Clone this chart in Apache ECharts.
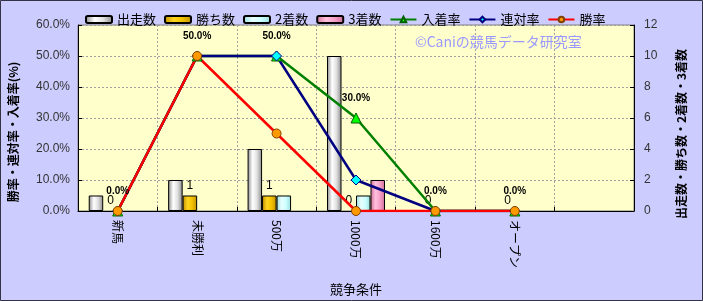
<!DOCTYPE html>
<html><head><meta charset="utf-8">
<script src="https://cdn.jsdelivr.net/npm/echarts@6/dist/echarts.min.js"></script>
<style>html,body{margin:0;padding:0;background:#CCCCFF;}#c{width:703px;height:301px;}</style>
</head><body><div id="c"></div>
<script>
const categories = ['新馬','未勝利','500万','1000万','1600万','オープン',''];
const runs   = [1, 2, 4, 10, 0, 0, '-'];
const wins   = [0, 1, 1, 0, 0, 0, '-'];
const second = [0, 0, 1, 1, 0, 0, '-'];
const third  = [0, 0, 0, 2, 0, 0, '-'];
const placeRate = [0, 50, 50, 30, 0, 0, '-'];
const rentaiRate = [0, 50, 50, 10, 0, 0, '-'];
const winRate = [0, 50, 25, 0, 0, 0, '-'];
const leftTicks = {min: 0, max: 60, interval: 10};
const rightTicks = {min: 0, max: 12, interval: 2};
const leftName = '勝率・連対率・入着率(%)';
const rightName = '出走数・勝ち数・2着数・3着数';

const chart = echarts.init(document.getElementById('c'));
const G = echarts.graphic.LinearGradient;
const font = "'Noto Sans CJK JP', sans-serif";
const numFont = "'Liberation Sans', Arial, sans-serif";
function barGrad(dark, mid, light) {
  return new G(0,0,1,0,[{offset:0,color:dark},{offset:0.35,color:light},{offset:0.65,color:mid},{offset:1,color:dark}]);
}
// zero-height bars: no outline at baseline
function barData(arr) {
  return arr.map(v => v === 0 ? {value: 0, itemStyle: {borderWidth: 0, color: 'rgba(0,0,0,0)'}} : v);
}
chart.setOption({
  backgroundColor: '#CCCCFF',
  animation: false,
  textStyle: {fontFamily: font},
  legend: {
    left: 80, top: 8, itemWidth: 26, itemHeight: 7, itemGap: 8,
    textStyle: {fontSize: 13, color: '#000', fontFamily: font},
    data: [
      {name:'出走数', icon:'roundRect'},
      {name:'勝ち数', icon:'roundRect'},
      {name:'2着数', icon:'roundRect'},
      {name:'3着数', icon:'roundRect'},
      '入着率','連対率','勝率'
    ]
  },
  grid: {left: 78, right: 69, top: 25, bottom: 88, show: true, backgroundColor: '#FFFFCC', borderColor: '#808080', borderWidth: 1},
  graphic: [
    {type:'text', left: 415, top: 35, z: 1, style:{text:'©Caniの競馬データ研究室', fill:'#9999FF', font:"14px 'Noto Sans CJK JP', sans-serif"}},
    {type:'text', x: 13, y: 132, rotation: Math.PI/2, style:{text: leftName, fill:'#000', font:"bold 12px 'Noto Sans CJK JP', sans-serif", align:'center', verticalMiddle:'middle', verticalAlign:'middle'}},
    {type:'text', x: 681, y: 134, rotation: Math.PI/2, style:{text: rightName, fill:'#000', font:"bold 12px 'Noto Sans CJK JP', sans-serif", align:'center', verticalAlign:'middle'}},
    {type:'rect', shape:{x:0.5,y:0.5,width:702,height:300}, style:{fill:null, stroke:'#333344', lineWidth:1}, z: 100, silent:true}
  ],
  xAxis: {
    type: 'category', data: categories, boundaryGap: true,
    name: '競争条件', nameLocation: 'middle', nameGap: 72,
    nameTextStyle: {fontSize: 13, color: '#000', fontFamily: font},
    axisLine: {lineStyle: {color: '#000'}},
    axisTick: {show: true, inside: true, length: 4, lineStyle:{color:'#000'}},
    axisLabel: {rotate: -90, fontSize: 12, color: '#000', margin: 9, fontFamily: font},
    splitLine: {show: true, lineStyle: {color: '#A0A0A0', type: [2,2]}}
  },
  yAxis: [
    {
      type: 'value', min: leftTicks.min, max: leftTicks.max, interval: leftTicks.interval,
      axisLine: {show: true, lineStyle: {color: '#000'}},
      axisTick: {show: true, inside: true, length: 4, lineStyle:{color:'#000'}},
      axisLabel: {formatter: v => v.toFixed(1) + '%', fontSize: 12, color: '#333', fontFamily: numFont, margin: 8},
      splitLine: {show: true, lineStyle: {color: '#A0A0A0', type: [2,2]}}
    },
    {
      type: 'value', min: rightTicks.min, max: rightTicks.max, interval: rightTicks.interval, position: 'right',
      axisLine: {show: true, lineStyle: {color: '#000'}},
      axisTick: {show: true, inside: true, length: 4, lineStyle:{color:'#000'}},
      axisLabel: {fontSize: 12, color: '#333', fontFamily: numFont, margin: 10},
      splitLine: {show: false}
    }
  ],
  series: [
    {name:'出走数', type:'bar', yAxisIndex:1, data: barData(runs), z: 3, barGap: '0%', barCategoryGap: '27%',
      itemStyle:{color: barGrad('#8a8a8a','#e0e0e0','#ffffff'), borderColor:'#000', borderWidth:1}},
    {name:'勝ち数', type:'bar', yAxisIndex:1, data: barData(wins), z: 3,
      itemStyle:{color: barGrad('#C09000','#F2C200','#FFD520'), borderColor:'#000', borderWidth:1},
      label:{show:true, position:'top', distance: 4, fontSize: 12, color:'#000', fontFamily: numFont}},
    {name:'2着数', type:'bar', yAxisIndex:1, data: barData(second), z: 3,
      itemStyle:{color: barGrad('#99DDDD','#CCFFFF','#E8FFFF'), borderColor:'#000', borderWidth:1}},
    {name:'3着数', type:'bar', yAxisIndex:1, data: barData(third), z: 3,
      itemStyle:{color: barGrad('#D07098','#F5A0C8','#FFC0DD'), borderColor:'#000', borderWidth:1}},
    {name:'入着率', type:'line', yAxisIndex:0, data: placeRate, symbol:'triangle', symbolSize: 10,
      lineStyle:{color:'#008000', width:2.5}, itemStyle:{color:'#00FF00', borderColor:'#006000', borderWidth:1},
      label:{show:true, position:'top', distance: 9, formatter: p => p.value.toFixed(1) + '%', fontSize: 10, fontWeight:'bold', color:'#000', fontFamily: numFont}},
    {name:'連対率', type:'line', yAxisIndex:0, data: rentaiRate, symbol:'diamond', symbolSize: 10,
      lineStyle:{color:'#000080', width:2.5}, itemStyle:{color:'#00FFFF', borderColor:'#000080', borderWidth:1}},
    {name:'勝率', type:'line', yAxisIndex:0, data: winRate, symbol:'circle', symbolSize: 9,
      lineStyle:{color:'#FF0000', width:2.5}, itemStyle:{color:'#FF9900', borderColor:'#804000', borderWidth:1}}
  ]
});
</script></body></html>
